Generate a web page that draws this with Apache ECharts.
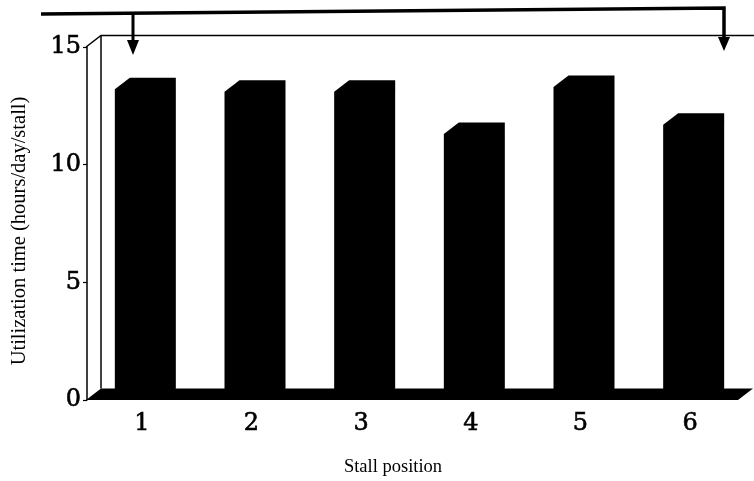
<!DOCTYPE html>
<html>
<head>
<meta charset="utf-8">
<script src="https://cdn.jsdelivr.net/npm/echarts@6/dist/echarts.min.js"></script>
<style>
  html, body { margin: 0; padding: 0; background: #fff; }
  #chart { width: 754px; height: 481px; }
</style>
</head>
<body>
<div id="chart"></div>
<script>
// Stall positions along the row and their daily utilisation
const stalls = ['1', '2', '3', '4', '5', '6'];
const utilization = [13.2, 13.1, 13.1, 11.3, 13.3, 11.7];
const yTicks = [0, 5, 10, 15];

// pseudo-3D depth offset for bars, floor and side wall
const DEPTH_X = 15;
const DEPTH_Y = -11.5;
const BAR_FRONT = 46;

const serifDigits = '"DejaVu Serif", "Liberation Serif", serif';
const serifText = '"Liberation Serif", "DejaVu Serif", serif';

const chart = echarts.init(document.getElementById('chart'), null, { renderer: 'canvas' });

// Frame: left side wall, back wall top edge and black floor slab
function renderFrame(params, api) {
  const base0 = api.coord([0, 0]);
  const top0 = api.coord([0, yTicks[yTicks.length - 1]]);
  const bw = api.size([1, 0])[0];
  const xLeft = base0[0] - bw / 2 - 1;
  const xRight = xLeft + bw * stalls.length - 6;
  const yBase = base0[1];
  const yTop = top0[1];
  return {
    type: 'group',
    children: [
      {
        type: 'polygon',
        shape: { points: [
          [xLeft, yBase], [xLeft + DEPTH_X, yBase + DEPTH_Y],
          [xRight + DEPTH_X, yBase + DEPTH_Y], [xRight, yBase]
        ] },
        style: { fill: '#000' }
      },
      {
        type: 'polyline',
        shape: { points: [
          [xLeft, yTop], [xLeft + DEPTH_X, yTop + DEPTH_Y], [760, yTop + DEPTH_Y]
        ] },
        style: { stroke: '#000', lineWidth: 1.5, fill: null }
      },
      {
        type: 'line',
        shape: { x1: xLeft + DEPTH_X, y1: yTop + DEPTH_Y, x2: xLeft + DEPTH_X, y2: yBase + DEPTH_Y },
        style: { stroke: '#000', lineWidth: 1.5 }
      }
    ]
  };
}

// Each bar: a front face joined with its offset back face, all in black
function renderBar(params, api) {
  const idx = api.value(0);
  const val = api.value(1);
  const top = api.coord([idx, val]);
  const base = api.coord([idx, 0]);
  const left = top[0] - 27;
  const right = left + BAR_FRONT;
  return {
    type: 'polygon',
    shape: { points: [
      [left, base[1]],
      [left, top[1]],
      [left + DEPTH_X, top[1] + DEPTH_Y],
      [right + DEPTH_X, top[1] + DEPTH_Y],
      [right + DEPTH_X, base[1] + DEPTH_Y],
      [right, base[1]]
    ] },
    style: { fill: '#000' }
  };
}

const digitStyle = {
  fontFamily: serifDigits, fontSize: 24, color: '#000',
  textBorderColor: '#000', textBorderWidth: 0.6
};

chart.setOption({
  animation: false,
  backgroundColor: '#fff',
  grid: { left: 87, right: 9, top: 47, bottom: 81, containLabel: false, outerBoundsMode: 'none' },
  xAxis: {
    type: 'category',
    data: stalls,
    name: 'Stall position',
    nameLocation: 'middle',
    nameGap: 58,
    nameTextStyle: { fontFamily: serifText, fontSize: 18.5, color: '#000', padding: [0, 46, 0, 0] },
    axisLine: { show: false },
    axisTick: { show: false },
    axisLabel: Object.assign({ margin: 12 }, digitStyle)
  },
  yAxis: {
    type: 'value',
    min: 0,
    max: 15,
    interval: 5,
    name: 'Utilization time (hours/day/stall)',
    nameLocation: 'middle',
    nameGap: 57,
    nameTextStyle: { fontFamily: serifText, fontSize: 20.5, color: '#000', padding: [0, 15, 0, 0] },
    axisLine: { show: true, lineStyle: { color: '#000', width: 1.5 } },
    axisTick: { show: true, length: 4, lineStyle: { color: '#000', width: 1.2 } },
    axisLabel: Object.assign({ margin: 6 }, digitStyle),
    splitLine: { show: false }
  },
  series: [
    {
      type: 'custom',
      renderItem: renderFrame,
      data: [[0, 0]],
      silent: true,
      z: 1
    },
    {
      type: 'custom',
      renderItem: renderBar,
      data: utilization.map((v, i) => [i, v]),
      z: 2
    }
  ],
  graphic: [
    {
      type: 'polyline',
      shape: { points: [[41, 14], [724, 8], [724, 38]] },
      style: { stroke: '#000', lineWidth: 3.5, fill: null }
    },
    {
      type: 'polygon',
      shape: { points: [[718, 37], [730, 37], [724, 51]] },
      style: { fill: '#000' }
    },
    {
      type: 'line',
      shape: { x1: 133, y1: 13, x2: 133, y2: 41 },
      style: { stroke: '#000', lineWidth: 3 }
    },
    {
      type: 'polygon',
      shape: { points: [[127, 40], [139, 40], [133, 55]] },
      style: { fill: '#000' }
    }
  ]
});
</script>
</body>
</html>
